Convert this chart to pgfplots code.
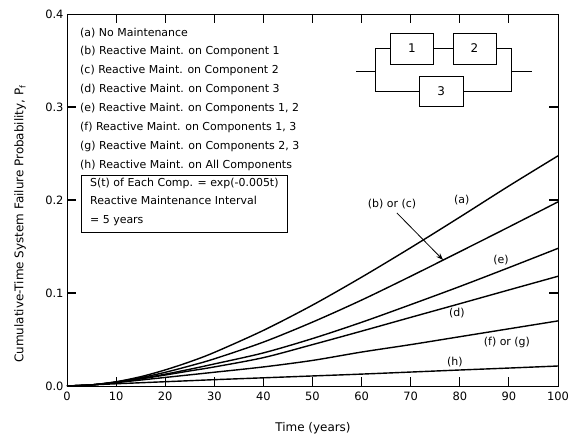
\documentclass[border=0pt]{standalone}
\usepackage{fontspec}
\setmainfont{DejaVu Sans}
\usepackage{pgfplots}
\pgfplotsset{compat=1.18}
\usetikzlibrary{calc,arrows.meta}

% Cumulative-time system failure probability, one table per curve
\pgfplotstableread{
t P
0 0
5 0.0012
10 0.0046
15 0.0100
20 0.0173
25 0.0260
30 0.0361
40 0.0598
50 0.0870
60 0.1170
70 0.1487
80 0.1816
90 0.2151
100 0.2475
}\curveA
\pgfplotstableread{
t P
0 0
5 0.0012
10 0.0043
15 0.0089
20 0.0147
25 0.0216
30 0.0292
40 0.0472
50 0.0687
60 0.0924
70 0.1180
80 0.1444
90 0.1710
100 0.1980
}\curveBC
\pgfplotstableread{
t P
0 0
5 0.0012
10 0.0040
15 0.0080
20 0.0127
25 0.0180
30 0.0237
40 0.0356
50 0.0510
60 0.0685
70 0.0875
80 0.1070
90 0.1273
100 0.1480
}\curveE
\pgfplotstableread{
t P
0 0
5 0.0012
10 0.0039
15 0.0076
20 0.0118
25 0.0162
30 0.0205
40 0.0305
50 0.0445
60 0.0590
70 0.0738
80 0.0885
90 0.1033
100 0.1180
}\curveD
\pgfplotstableread{
t P
0 0
5 0.0012
10 0.0036
15 0.0064
20 0.0092
25 0.0120
30 0.0148
40 0.0205
50 0.0275
60 0.0365
70 0.0445
80 0.0530
90 0.0615
100 0.0700
}\curveFG
\pgfplotstableread{
t P
0 0
5 0.0012
10 0.0024
15 0.0035
20 0.0046
25 0.0057
30 0.0068
40 0.0088
50 0.0108
60 0.0128
70 0.0150
80 0.0172
90 0.0193
100 0.0215
}\curveH

\begin{document}
\begin{tikzpicture}
\begin{axis}[
  name=ax,
  scale only axis,
  width=491bp, height=372bp,
  xmin=0, xmax=100, ymin=0, ymax=0.4,
  xtick={0,10,...,100},
  ytick={0,0.1,0.2,0.3,0.4},
  yticklabels={0.0,0.1,0.2,0.3,0.4},
  major tick length=0pt,
  axis line style={line width=0.9bp},
  /pgf/number format/assume math mode=true,
  ticklabel style={font=\fontsize{11.5}{13}\selectfont},
  xticklabel style={yshift=-2bp},
  xlabel={Time (years)},
  ylabel={Cumulative-Time System Failure Probability, P\raisebox{-0.35ex}{\fontsize{8}{9}\selectfont f}},
  label style={font=\fontsize{12}{14}\selectfont},
  xlabel style={at={(axis description cs:0.501,-0.113)}, anchor=center},
  ylabel style={at={(axis description cs:-0.0957,0.435)}, anchor=center},
  clip=false,
  curve/.style={black, line width=1.4bp, smooth, tension=0.5, no markers},
]
\addplot[curve] table[x=t,y=P] {\curveA};
\addplot[curve] table[x=t,y=P] {\curveBC};
\addplot[curve] table[x=t,y=P] {\curveE};
\addplot[curve] table[x=t,y=P] {\curveD};
\addplot[curve] table[x=t,y=P] {\curveFG};
\addplot[curve] table[x=t,y=P] {\curveH};

% case list
\node[anchor=north west, inner sep=0pt, align=left, font=\fontsize{11}{19}\selectfont]
  at (axis cs:2.65,0.3855) {%
  (a) No Maintenance\\
  (b) Reactive Maint. on Component 1\\
  (c) Reactive Maint. on Component 2\\
  (d) Reactive Maint. on Component 3\\
  (e) Reactive Maint. on Components 1, 2\\
  (f) Reactive Maint. on Components 1, 3\\
  (g) Reactive Maint. on Components 2, 3\\
  (h) Reactive Maint. on All Components};

% assumptions box
\draw[line width=0.8bp] (axis cs:2.85,0.2269) rectangle (axis cs:44.8,0.1656);
\node[anchor=north west, inner sep=0pt, align=left, font=\fontsize{11}{18.5}\selectfont]
  at (axis cs:4.68,0.2237) {%
  S(t) of Each Comp. = exp(-0.005t)\\
  Reactive Maintenance Interval\\
  = 5 years};

% reliability block diagram: 1 and 2 in series, parallel with 3
\begin{scope}[line width=0.8bp]
\draw (axis cs:65.8,0.3796) rectangle (axis cs:74.7,0.3462);
\draw (axis cs:78.6,0.3796) rectangle (axis cs:87.4,0.3462);
\draw (axis cs:71.7,0.3333) rectangle (axis cs:80.7,0.3011);
\node[font=\fontsize{12}{14}\selectfont] at (axis cs:70.25,0.3629) {1};
\node[font=\fontsize{12}{14}\selectfont] at (axis cs:83.0,0.3629) {2};
\node[font=\fontsize{12}{14}\selectfont] at (axis cs:76.2,0.3172) {3};
\draw (axis cs:58.9,0.3387) -- (axis cs:62.9,0.3387);
\draw (axis cs:65.8,0.3634) -| (axis cs:62.9,0.3172) -- (axis cs:71.7,0.3172);
\draw (axis cs:74.7,0.3634) -- (axis cs:78.6,0.3634);
\draw (axis cs:87.4,0.3634) -| (axis cs:90.6,0.3172) -- (axis cs:80.7,0.3172);
\draw (axis cs:90.6,0.3387) -- (axis cs:94.7,0.3387);
\end{scope}

% curve labels
\begin{scope}[font=\fontsize{11}{13}\selectfont]
\node at (axis cs:80.4,0.200) {(a)};
\node at (axis cs:66.2,0.1957) {(b) or (c)};
\node at (axis cs:88.4,0.1355) {(e)};
\node at (axis cs:79.4,0.0785) {(d)};
\node at (axis cs:89.6,0.0473) {(f) or (g)};
\node at (axis cs:79.0,0.0258) {(h)};
\end{scope}
\draw[line width=0.8bp, -{Stealth[length=7bp,width=5bp]}]
  (axis cs:67.2,0.186) -- (axis cs:76.6,0.1355);
\end{axis}

% inward tick marks on all four sides of the frame
\foreach \f in {0.1,0.2,...,0.95}{
  \draw[line width=1.1bp] ($(ax.south west)!\f!(ax.south east)$) -- ++(0,9bp);
  \draw[line width=1.1bp] ($(ax.north west)!\f!(ax.north east)$) -- ++(0,-9bp);
}
\foreach \f in {0.25,0.5,0.75}{
  \draw[line width=1.1bp] ($(ax.south west)!\f!(ax.north west)$) -- ++(9bp,0);
  \draw[line width=1.1bp] ($(ax.south east)!\f!(ax.north east)$) -- ++(-9bp,0);
}

\pgfresetboundingbox
\path ($(ax.south west)+(-67bp,-53bp)$) rectangle ($(ax.north east)+(22bp,14bp)$);
\end{tikzpicture}
\end{document}
